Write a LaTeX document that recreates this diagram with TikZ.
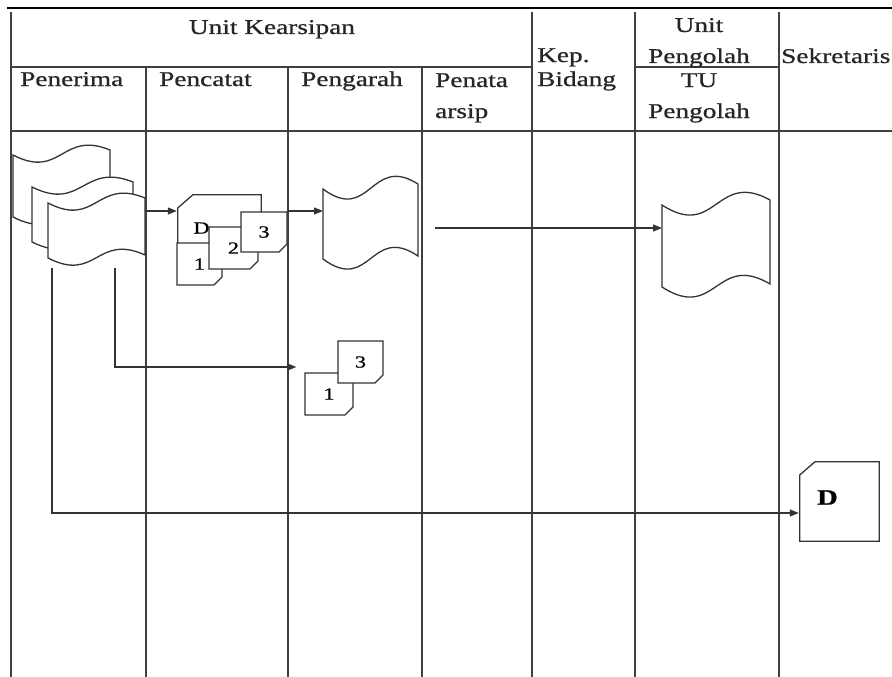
\documentclass[tikz,border=0pt]{standalone}
\usepackage{fontspec}
\setmainfont{Liberation Serif}[FakeStretch=1.3, FakeBold=0.8]
\usetikzlibrary{positioning,arrows.meta,shapes.misc}

\begin{document}
\begin{tikzpicture}[
  x=1pt, y=-1pt,
  font=\fontsize{21}{31}\selectfont,
  grid/.style={line width=1.3pt, black!75},
  hd/.style={inner sep=0pt, align=left, anchor=base west, text=black!85},
  docline/.style={line width=1.3pt, draw=black!80, fill=white},
  pics/tapedoc/.style n args={3}{code={
    \filldraw[docline] (0,0) .. controls (0.5*#1,#3) and (0.5*#1,-#3) .. (#1,-5)
      -- (#1,#2-3) .. controls (0.5*#1,#2-#3) and (0.5*#1,#2+#3) .. (0,#2) -- cycle;
    \coordinate (-w) at (0,0.5*#2);
    \coordinate (-e) at (#1,0.5*#2);
    \coordinate (-s) at (0.5*#1,#2+10);
  }},
  carddoc/.style={draw, chamfered rectangle, chamfered rectangle corners=south east,
    chamfered rectangle xsep=4pt, chamfered rectangle ysep=4pt, docline,
    inner sep=0pt, font=\fontsize{17}{20}\selectfont},
  ddoc/.style={fill=white, inner sep=0pt, path picture={
    \draw[line width=1.3pt, black!80]
      ([shift={(0.7pt,-14pt)}]path picture bounding box.north west)
      -- ([shift={(16pt,-0.7pt)}]path picture bounding box.north west)
      -- ([shift={(-0.7pt,-0.7pt)}]path picture bounding box.north east)
      -- ([shift={(-0.7pt,0.7pt)}]path picture bounding box.south east)
      -- ([shift={(0.7pt,0.7pt)}]path picture bounding box.south west) -- cycle;}},
  flow/.style={-{Triangle[length=9pt,width=7pt]}, line width=1.2pt, black!80}
]
  \useasboundingbox (0,0) rectangle (892,677);
  % swimlanes
  \draw[line width=2.5pt] (7,8) -- (892,8);
  \foreach \cx in {11,532,635,779}
    \draw[grid] (\cx,12) -- (\cx,677);
  \foreach \cx in {146,288,422}
    \draw[grid] (\cx,67) -- (\cx,677);
  \draw[grid] (11,67) -- (532,67);
  \draw[grid] (635,67) -- (779,67);
  \draw[grid] (11,131) -- (892,131);

  \node[hd, anchor=base] (kears) at (272,34) {Unit Kearsipan};
  \node[hd] (kep) at (537,86) {Kep.\\[-7pt]Bidang};
  \node[hd, align=center, anchor=base] (uol) at (699,63) {Unit\\Pengolah};
  \node[hd] (sekr) at (781,63) {Sekretaris};
  \node[hd] (hpen) at (20,86) {Penerima};
  \node[hd] (hcat) at (159,86) {Pencatat};
  \node[hd] (harah) at (301,86) {Pengarah};
  \node[hd] (hata) at (435,118) {Penata\\arsip};
  \node[hd, align=center, anchor=base] (tu) at (699,118) {TU\\Pengolah};

  % documents
  \pic (pen1) at (13,155) {tapedoc={97}{62}{25}};
  \pic (pen2) at (32,187) {tapedoc={101}{55}{25}};
  \pic (pen3) at (48,203) {tapedoc={97}{55}{25}};
  \pic (arah) at (323,189) {tapedoc={95}{70}{35}};
  \pic (olah) at (662,205) {tapedoc={108}{82}{35}};

  \node[ddoc, minimum width=85pt, minimum height=56pt,
    label={[font=\fontsize{17}{20}\selectfont, xshift=-18pt, yshift=-6pt]center:D}] (dcat) at (219.5,222) {};
  \node[carddoc, minimum width=45pt, minimum height=42pt] (c1) at (199.5,264) {1};
  \node[carddoc, minimum width=49pt, minimum height=42pt] (c2) at (233.5,248) {2};
  \node[carddoc, minimum width=46pt, minimum height=40pt] (c3) at (264,232) {3};

  \node[carddoc, minimum width=48pt, minimum height=42pt] (g1) at (329,394) {1};
  \node[carddoc, minimum width=45pt, minimum height=42pt] (g3) at (360.5,362) {3};

  \node[ddoc, minimum width=81pt, minimum height=81pt,
    label={[font=\fontsize{22}{24}\selectfont\bfseries, xshift=-12pt, yshift=4pt]center:D}] (dsek) at (839.5,501.5) {};

  % flows
  \coordinate (row1) at (0,211);
  \coordinate (src) at (435,228);
  \coordinate (bend1) at (115,367);
  \coordinate (bend2) at (52,513);
  \draw[flow] (pen3-e |- row1) -- (dcat.west |- row1);
  \draw[flow] (c3.east |- row1) -- (arah-w |- row1);
  \draw[flow] (src) -- (olah-w |- src);
  \draw[flow, shorten >=8pt] (pen3-s -| bend1) -- (bend1) -- (g1.west |- bend1);
  \draw[flow] (pen3-s -| bend2) -- (bend2) -- (dsek.west |- bend2);
\end{tikzpicture}
\end{document}
